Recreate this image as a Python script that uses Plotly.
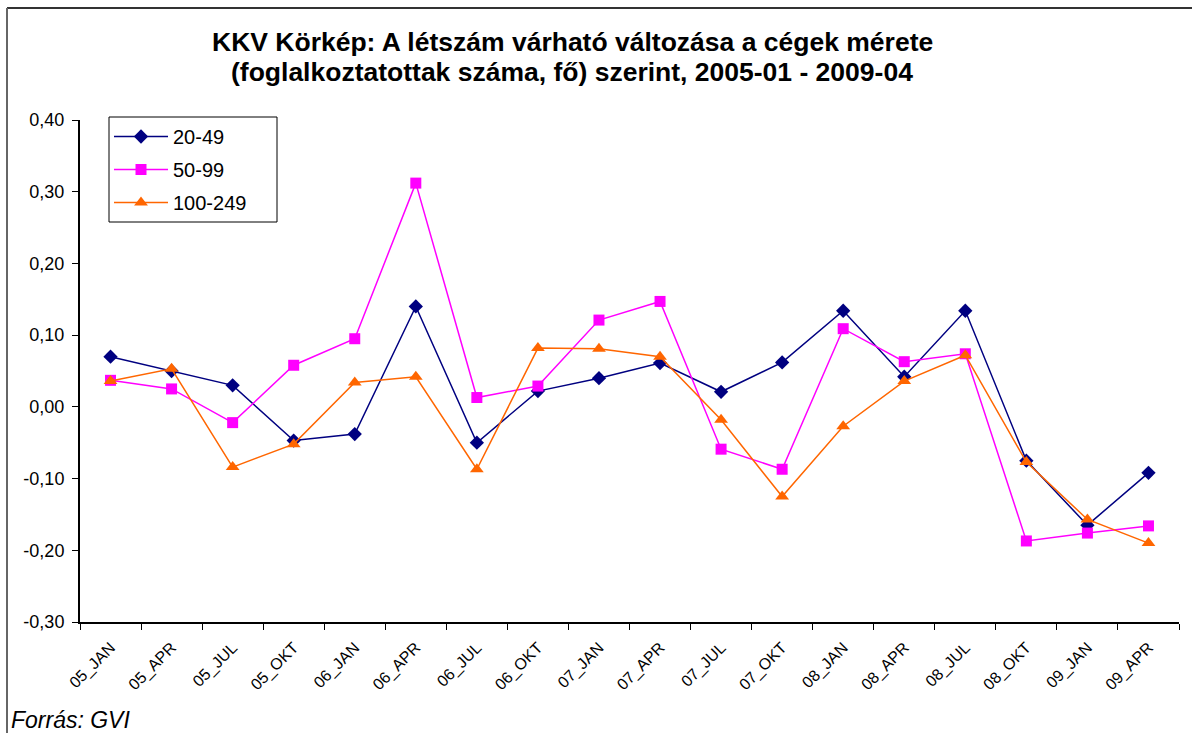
import plotly.graph_objects as go

categories = ["05_JAN", "05_APR", "05_JUL", "05_OKT", "06_JAN", "06_APR", "06_JUL", "06_OKT",
              "07_JAN", "07_APR", "07_JUL", "07_OKT", "08_JAN", "08_APR", "08_JUL", "08_OKT",
              "09_JAN", "09_APR"]

s_20_49 = [0.07, 0.05, 0.03, -0.047, -0.038, 0.14, -0.05, 0.022, 0.04, 0.061, 0.021, 0.062,
           0.134, 0.042, 0.134, -0.075, -0.165, -0.092]
s_50_99 = [0.037, 0.025, -0.022, 0.058, 0.095, 0.312, 0.013, 0.029, 0.121, 0.147, -0.059, -0.087,
           0.109, 0.063, 0.074, -0.187, -0.176, -0.166]
s_100_249 = [0.036, 0.053, -0.084, -0.052, 0.034, 0.042, -0.087, 0.082, 0.081, 0.07, -0.018, -0.125,
             -0.027, 0.036, 0.072, -0.077, -0.157, -0.19]

y_tick_values = [0.4, 0.3, 0.2, 0.1, 0.0, -0.1, -0.2, -0.3]
y_tick_labels = ["0,40", "0,30", "0,20", "0,10", "0,00", "-0,10", "-0,20", "-0,30"]

title_lines = ["KKV Körkép: A létszám várható változása a cégek mérete",
               "(foglalkoztatottak száma, fő) szerint, 2005-01 - 2009-04"]

FONT = "Liberation Sans, Arial, sans-serif"

fig = go.Figure()
fig.add_trace(go.Scatter(x=categories, y=s_20_49, name="20-49", mode="lines+markers",
                         legendgroup="a",
                         line=dict(color="#000080", width=1.5),
                         marker=dict(symbol="diamond", size=11, color="#000080")))
fig.add_trace(go.Scatter(x=categories, y=s_50_99, name="50-99", mode="lines+markers",
                         legendgroup="b",
                         line=dict(color="#FF00FF", width=1.5),
                         marker=dict(symbol="square", size=11, color="#FF00FF")))
fig.add_trace(go.Scatter(x=categories, y=s_100_249, name="100-249", mode="lines+markers",
                         legendgroup="c",
                         line=dict(color="#FF6600", width=1.5),
                         marker=dict(symbol="triangle-up", size=12, color="#FF6600")))

L, R, T, B = 80, 13, 120, 111
W, H = 1192, 733
pw, ph = W - L - R, H - T - B


def px_x(x):
    return (x - L) / pw


def px_y(y):
    return 1 + (T - y) / ph


fig.update_layout(
    width=W, height=H,
    margin=dict(l=L, r=R, t=T, b=B),
    paper_bgcolor="white", plot_bgcolor="white",
    font=dict(family=FONT, color="black"),
    showlegend=True,
    legend=dict(x=px_x(109), y=px_y(117), xanchor="left", yanchor="top",
                borderwidth=0, bgcolor="rgba(0,0,0,0)",
                font=dict(size=20, family=FONT), tracegroupgap=4,
                itemwidth=54),
)

# legend frame
fig.add_shape(type="rect", xref="paper", yref="paper",
              x0=px_x(109), x1=px_x(277), y0=px_y(117), y1=px_y(222),
              line=dict(color="black", width=1), fillcolor="white", layer="above")

# two-line bold chart title
for line_text, y_px in zip(title_lines, [42, 72]):
    fig.add_annotation(text="<b>" + line_text + "</b>", xref="paper", yref="paper",
                       x=px_x(572), y=px_y(y_px), xanchor="center", yanchor="middle",
                       showarrow=False, font=dict(size=26.5, family=FONT, color="black"))

fig.update_xaxes(type="category", range=[-0.5, 17.5], tickson="boundaries",
                 ticks="outside", ticklen=6, tickcolor="black", tickwidth=1,
                 showline=True, linecolor="black", linewidth=2, showgrid=False,
                 tickangle=-45, ticklabelstandoff=8,
                 tickfont=dict(size=16, family=FONT, color="black"))
fig.update_yaxes(range=[-0.3, 0.4], tickvals=y_tick_values, ticktext=y_tick_labels,
                 ticks="outside", ticklen=6, tickcolor="black", tickwidth=1,
                 showline=True, linecolor="black", linewidth=2, showgrid=False,
                 zeroline=False, ticklabelstandoff=4,
                 tickfont=dict(size=18, family=FONT, color="black"))

# outer chart frame (top and left edges visible)
fig.add_shape(type="line", xref="paper", yref="paper", x0=px_x(7), x1=px_x(W + 5),
              y0=px_y(8), y1=px_y(8), line=dict(color="#333333", width=2))
fig.add_shape(type="line", xref="paper", yref="paper", x0=px_x(7), x1=px_x(7),
              y0=px_y(8), y1=px_y(H + 5), line=dict(color="#666666", width=2))

fig.add_annotation(text="<i>Forrás: GVI</i>", xref="paper", yref="paper",
                   x=px_x(9), y=px_y(720), xanchor="left", yanchor="middle",
                   showarrow=False, font=dict(size=23, family=FONT, color="black"))

fig.write_html("out.html", config={"displayModeBar": False},
               post_script="document.body.style.margin='0';document.body.style.overflow='hidden';")
